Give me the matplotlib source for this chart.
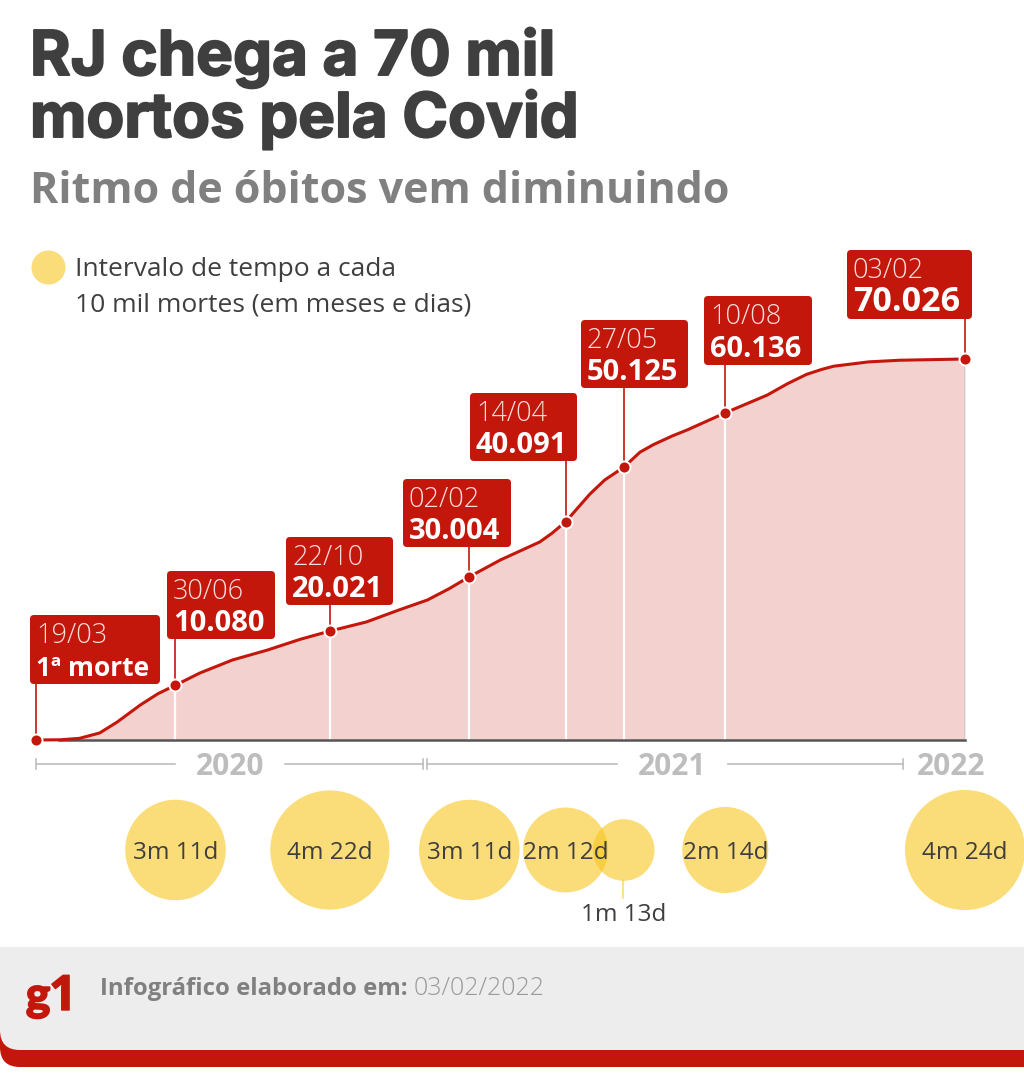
import matplotlib
matplotlib.use('Agg')
import matplotlib.pyplot as plt
import matplotlib.patheffects as pe
from matplotlib.patches import FancyBboxPatch
from matplotlib.transforms import blended_transform_factory

# curve: days since 19/03/2020, total deaths
days = [0, 18, 32, 47, 60, 77, 90, 103, 121, 145, 171, 195, 217, 244, 268, 289, 305, 320,
        343, 372, 381, 391, 409, 420, 434, 446, 456, 470, 481, 509, 540, 555, 569, 580, 589,
        615, 638, 686]
deaths = [0, 40, 300, 1290, 3310, 6430, 8500, 10080, 12310, 14700, 16540, 18500, 20021, 21700,
          23900, 25730, 27800, 30004, 33100, 36400, 38000, 40091, 45200, 47800, 50125,
          52900, 54300, 55900, 57000, 60136, 63400, 65500, 67200, 68100, 68700, 69500, 69800, 70026]

mark_days = [0, 103, 217, 320, 391, 434, 509, 686]
mark_deaths = [0, 10080, 20021, 30004, 40091, 50125, 60136, 70026]
mark_dates = ['19/03', '30/06', '22/10', '02/02', '14/04', '27/05', '10/08', '03/02']
mark_labels = ['1ª morte', '10.080', '20.021', '30.004', '40.091', '50.125', '60.136', '70.026']

interval_length = [101, 142, 101, 72, 38, 74, 144]
interval_labels = ['3m 11d', '4m 22d', '3m 11d', '2m 12d', '1m 13d', '2m 14d', '4m 24d']

years = ['2020', '2021', '2022']

RED = '#C4170C'
FILL = '#F3D1CF'
YELLOW = '#F8C61E'
DARK = '#3F3F3F'
GREY = '#808080'
LIGHT = '#BDBDBD'
FONT = 'Open Sans'


def fat(width, color):
    return [pe.withStroke(linewidth=width, foreground=color)]


W, H = 1024, 1080
fig = plt.figure(figsize=(W / 100, H / 100), dpi=100)

# layout axes works in image pixels
page = fig.add_axes([0, 0, 1, 1])
page.set_xlim(0, W)
page.set_ylim(H, 0)
page.axis('off')

# chart axes sits so 0 deaths is on y=740 and 70026 on y=359
chart = fig.add_axes([36 / W, 1 - 740 / H, 929 / W, 381 / H])
chart.set_xlim(0, 686)
chart.set_ylim(0, 70026)
chart.axis('off')
chart.patch.set_alpha(0)

chart.fill_between(days, deaths, 0, color=FILL, lw=0, zorder=1)
for d, v in zip(mark_days[1:-1], mark_deaths[1:-1]):
    chart.plot([d, d], [0, v], color='white', lw=1.6, zorder=2)
chart.plot([686, 686], [0, 70026], color='#CFCFCF', lw=1.4, zorder=2)
chart.plot([17, 686], [0, 0], color='#555555', lw=1.8, zorder=3, clip_on=False)
chart.plot(days, deaths, color=RED, lw=2.2, zorder=4, clip_on=False)
chart.scatter(mark_days, mark_deaths, s=75, color=RED, edgecolors='white', linewidths=1.4,
              zorder=6, clip_on=False)

# boxes with date and total
boxes = [(30, 615, 130, 69), (167, 571, 108, 68), (286, 537, 107, 68), (403, 479, 108, 68),
         (470, 393, 107, 68), (581, 320, 107, 68), (704, 296, 108, 69), (847, 250, 125, 69)]
label_sizes = [19, 21, 21, 21, 21, 21, 21, 24.5]
mixed = blended_transform_factory(chart.transData, page.transData)
for i, (x, y, w, h) in enumerate(boxes):
    page.add_patch(FancyBboxPatch((x + 3, y + 3), w - 6, h - 6, boxstyle='round,pad=3,rounding_size=4',
                                  fc=RED, ec='none', zorder=5))
    page.text(x + 6, y + 28, mark_dates[i], color='#F8DEDC', fontsize=19.5, family=FONT,
              weight='light', va='baseline', zorder=6)
    page.text(x + 6, y + h - 8, mark_labels[i], color='white', fontsize=label_sizes[i], family=FONT,
              weight='bold', va='baseline', zorder=6)

stem_tops = [684, 639, 605, 547, 461, 388, 365, 319]
for d, v, top in zip(mark_days, mark_deaths, stem_tops):
    ypix = 740 - v * 381 / 70026
    page.plot([d, d], [top, ypix], color=RED, lw=1.2, zorder=3, transform=mixed)

# year ruler
for a, b in [(36, 175), (285, 423), (427, 617), (728, 903)]:
    page.plot([a, b], [764, 764], color=LIGHT, lw=1.2)
for x in [36, 423, 427, 903]:
    page.plot([x, x], [759, 769], color=LIGHT, lw=1.2)
for x, year in zip([230, 672, 951], years):
    page.text(x, 775, year, color=LIGHT, fontsize=21.5, family=FONT, weight='bold',
              ha='center', va='baseline')

# intervals as circles, area follows length
sizes = [(2 * 5.0 * (n ** 0.5) * 0.72) ** 2 for n in interval_length]
page.scatter(mark_days[1:], [850] * 7, s=sizes, color=YELLOW, alpha=0.6, lw=0, zorder=2,
             transform=mixed)
for d, lab in zip(mark_days[1:], interval_labels):
    y = 921 if lab == '1m 13d' else 859
    page.text(d, y, lab, color=DARK, fontsize=17.5, family=FONT,
              ha='center', va='baseline', zorder=4, transform=mixed)
page.plot([623, 623], [880, 898], color='#FBDD78', lw=1.2, zorder=1)

# header
page.text(30, 75, 'RJ chega a 70 mil', color=DARK, fontsize=44.5, family='Inter', weight='bold',
          va='baseline', path_effects=fat(1.4, DARK))
page.text(30, 137, 'mortos pela Covid', color=DARK, fontsize=44.5, family='Inter', weight='bold',
          va='baseline', path_effects=fat(1.4, DARK))
page.text(30, 203, 'Ritmo de óbitos vem diminuindo', color=GREY, fontsize=31, family=FONT,
          weight='bold', va='baseline')

# legend
page.scatter([48], [267], s=(34 * 0.72) ** 2, color=YELLOW, alpha=0.6, lw=0)
page.text(75, 276, 'Intervalo de tempo a cada', color=DARK, fontsize=19, family=FONT, va='baseline')
page.text(75, 311, '10 mil mortes (em meses e dias)', color=DARK, fontsize=19, family=FONT, va='baseline')

# footer
page.add_patch(FancyBboxPatch((0, 1000), W + 60, 67, boxstyle='round,pad=0,rounding_size=20',
                              fc=RED, ec='none', zorder=1))
page.add_patch(FancyBboxPatch((0, 947), W + 60, 103, boxstyle='round,pad=0,rounding_size=20',
                              fc='#EDEDED', ec='none', zorder=2))
page.add_patch(plt.Rectangle((0, 947), 40, 40, fc='#EDEDED', ec='none', zorder=2))
page.text(26, 1010, 'g', color=RED, fontsize=33, family='Lato', weight='bold', va='baseline', zorder=4,
          path_effects=fat(1.5, RED))
page.text(49, 1010, '1', color=RED, fontsize=35, family=FONT, weight='bold', va='baseline', zorder=4,
          path_effects=fat(1.0, RED))
page.text(100, 995, 'Infográfico elaborado em:', color=GREY, fontsize=17.2, family=FONT,
          weight='bold', va='baseline', zorder=4)
page.text(414, 995, '03/02/2022', color='#9A9A9A', fontsize=18, family=FONT, weight='light',
          va='baseline', zorder=4)

page.set_xlim(0, W)
page.set_ylim(H, 0)
fig.savefig('out.png', dpi=100)
